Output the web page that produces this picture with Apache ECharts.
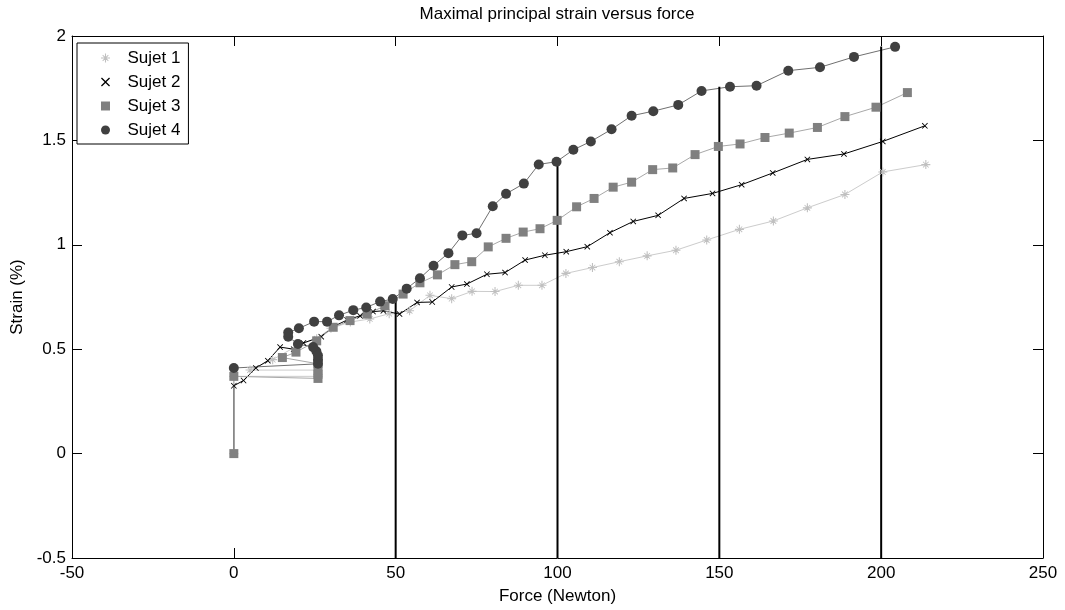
<!DOCTYPE html>
<html>
<head>
<meta charset="utf-8">
<title>Maximal principal strain versus force</title>
<script src="https://cdn.jsdelivr.net/npm/echarts@6.0.0/dist/echarts.min.js"></script>
<style>
html, body {margin: 0; padding: 0; background: #fff;}
#chart {width: 1065px; height: 610px;}
</style>
</head>
<body>
<div id="chart"></div>
<script>
var names = ["Sujet 1", "Sujet 2", "Sujet 3", "Sujet 4"];

var force1 = [0, 0, 26, 26, 5, 12, 20, 25.6, 30, 36, 42, 48, 54.3, 60.6, 67.3, 73.6, 80.7, 87.9, 95.2, 102.6, 110.8, 119.1, 127.7, 136.6, 146.1, 156.2, 166.7, 177.2, 188.8, 200.5, 213.8];
var strain1 = [0, 0.37, 0.37, 0.40, 0.40, 0.45, 0.52, 0.55, 0.60, 0.63, 0.645, 0.67, 0.684, 0.758, 0.742, 0.777, 0.776, 0.806, 0.806, 0.863, 0.891, 0.919, 0.947, 0.974, 1.023, 1.074, 1.114, 1.177, 1.241, 1.349, 1.384];

var force2 = [0, 0, 3, 6.8, 10.5, 14.3, 18.5, 21.5, 27, 31, 35, 39, 43, 46.2, 51.2, 56.6, 61.3, 67.3, 72, 78.2, 83.8, 90, 96.1, 102.7, 109.2, 116.2, 123.4, 131.1, 139.1, 147.9, 156.9, 166.5, 177.2, 188.5, 200.5, 213.5];
var strain2 = [0, 0.325, 0.35, 0.41, 0.445, 0.51, 0.50, 0.53, 0.56, 0.61, 0.64, 0.66, 0.68, 0.684, 0.668, 0.724, 0.726, 0.798, 0.812, 0.859, 0.867, 0.927, 0.95, 0.967, 0.991, 1.058, 1.112, 1.141, 1.222, 1.246, 1.288, 1.344, 1.409, 1.435, 1.495, 1.57];

var force3 = [0, 0, 26, 26, 26, 26, 15, 19.2, 25.6, 30.7, 35.9, 41.2, 46.7, 52.3, 57.5, 62.9, 68.3, 73.5, 78.6, 84.1, 89.4, 94.6, 99.9, 105.9, 111.3, 117.2, 122.9, 129.4, 135.6, 142.5, 149.7, 156.4, 164.1, 171.6, 180.3, 188.8, 198.4, 208.1];
var strain3 = [0, 0.37, 0.36, 0.38, 0.40, 0.43, 0.46, 0.486, 0.54, 0.605, 0.637, 0.668, 0.708, 0.764, 0.818, 0.856, 0.905, 0.919, 0.99, 1.031, 1.061, 1.077, 1.117, 1.182, 1.222, 1.276, 1.30, 1.36, 1.368, 1.432, 1.471, 1.483, 1.514, 1.535, 1.562, 1.614, 1.659, 1.729];

var force4 = [0, 26, 26, 26, 25.5, 24.5, 19.8, 16.8, 16.8, 20.1, 24.8, 28.8, 32.5, 36.9, 40.9, 45.2, 49.1, 53.4, 57.5, 61.7, 66.3, 70.6, 75, 80, 84.1, 89.6, 94.2, 99.7, 104.9, 110.3, 116.7, 122.9, 129.6, 137.3, 144.5, 153.3, 161.5, 171.3, 181.1, 191.6, 204.3];
var strain4 = [0.41, 0.43, 0.45, 0.47, 0.49, 0.51, 0.525, 0.56, 0.58, 0.60, 0.632, 0.632, 0.662, 0.687, 0.70, 0.728, 0.74, 0.79, 0.84, 0.90, 0.96, 1.045, 1.055, 1.185, 1.244, 1.293, 1.385, 1.398, 1.455, 1.495, 1.553, 1.618, 1.64, 1.67, 1.737, 1.757, 1.762, 1.834, 1.85, 1.90, 1.948];

// vertical reference lines
var markForce = [50, 100, 150, 200];
var markStrain = [0.74, 1.40, 1.757, 1.95];

var xMin = -50, xMax = 250, xStep = 50;
var yMin = -0.5, yMax = 2, yStep = 0.5;

var starPath = "path://M4.4,0L5.6,0L5.6,4.4L10,4.4L10,5.6L5.6,5.6L5.6,10L4.4,10L4.4,5.6L0,5.6L0,4.4L4.4,4.4Z" +
	"M1.5,2.2L2.2,1.5L5,4.3L7.8,1.5L8.5,2.2L5.7,5L8.5,7.8L7.8,8.5L5,5.7L2.2,8.5L1.5,7.8L4.3,5Z";
var crossPath = "path://M0,1L1,0L5,4L9,0L10,1L6,5L10,9L9,10L5,6L1,10L0,9L4,5Z";
var squarePath = "path://M0,0L10,0L10,10L0,10Z";

function pairs(xs, ys) {
	var out = [];
	for (var i = 0; i < xs.length; i++) {
		out.push([xs[i], ys[i]]);
	}
	return out;
}

var font = "'Liberation Sans', Arial, sans-serif";
var looks = [
	{symbol: starPath, size: 9, mark: "#c0c0c0", line: "#cccccc"},
	{symbol: crossPath, size: 6, mark: "#000000", line: "#000000"},
	{symbol: squarePath, size: 9, mark: "#808080", line: "#a8a8a8"},
	{symbol: "circle", size: 10, mark: "#404040", line: "#707070"}
];
var allData = [pairs(force1, strain1), pairs(force2, strain2), pairs(force3, strain3), pairs(force4, strain4)];

var series = [];
var legendData = [];
for (var i = 0; i < names.length; i++) {
	series.push({
		name: names[i],
		type: "line",
		data: allData[i],
		symbol: looks[i].symbol,
		symbolSize: looks[i].size,
		showAllSymbol: true,
		itemStyle: {color: looks[i].mark},
		lineStyle: {color: looks[i].line, width: 1},
		emphasis: {disabled: true}
	});
	legendData.push({
		name: names[i],
		icon: looks[i].symbol,
		itemStyle: {color: looks[i].mark}
	});
}
for (var k = 0; k < markForce.length; k++) {
	series.push({
		type: "line",
		data: [[markForce[k], yMin], [markForce[k], markStrain[k]]],
		symbol: "none",
		lineStyle: {color: "#000", width: 2},
		emphasis: {disabled: true},
		silent: true
	});
}

var chart = echarts.init(document.getElementById("chart"));
var axisCommon = {
	type: "value",
	axisLine: {show: true, onZero: false, lineStyle: {color: "#000", width: 1}},
	axisTick: {show: true, inside: true, length: 10, lineStyle: {color: "#000"}},
	splitLine: {show: false}
};
chart.setOption({
	animation: false,
	backgroundColor: "#fff",
	title: {
		text: "Maximal principal strain versus force",
		left: 557,
		top: 6,
		padding: 0,
		textAlign: "center",
		textStyle: {fontFamily: font, fontSize: 17, fontWeight: "normal", color: "#000"}
	},
	legend: {
		data: legendData,
		orient: "vertical",
		left: 77,
		top: 43,
		padding: [6, 8, 5, 24],
		itemWidth: 34,
		itemHeight: 9,
		itemGap: 6,
		selectedMode: false,
		backgroundColor: "#fff",
		borderColor: "#000",
		borderWidth: 1,
		textStyle: {fontFamily: font, fontSize: 17, color: "#000", lineHeight: 18}
	},
	grid: {left: 72, right: 22, top: 36, bottom: 50},
	xAxis: [
		Object.assign({}, axisCommon, {
			min: xMin, max: xMax, interval: xStep,
			position: "bottom",
			name: "Force (Newton)",
			nameLocation: "middle",
			nameGap: 30,
			nameTextStyle: {fontFamily: font, fontSize: 17, color: "#000"},
			axisLabel: {fontFamily: font, fontSize: 17, color: "#000", margin: 7}
		}),
		Object.assign({}, axisCommon, {
			min: xMin, max: xMax, interval: xStep,
			position: "top",
			axisLabel: {show: false}
		})
	],
	yAxis: [
		Object.assign({}, axisCommon, {
			min: yMin, max: yMax, interval: yStep,
			position: "left",
			name: "Strain (%)",
			nameLocation: "middle",
			nameGap: 42,
			nameTextStyle: {fontFamily: font, fontSize: 17, color: "#000"},
			axisLabel: {fontFamily: font, fontSize: 17, color: "#000", margin: 6}
		}),
		Object.assign({}, axisCommon, {
			min: yMin, max: yMax, interval: yStep,
			position: "right",
			axisLabel: {show: false}
		})
	],
	series: series
});
</script>
</body>
</html>
